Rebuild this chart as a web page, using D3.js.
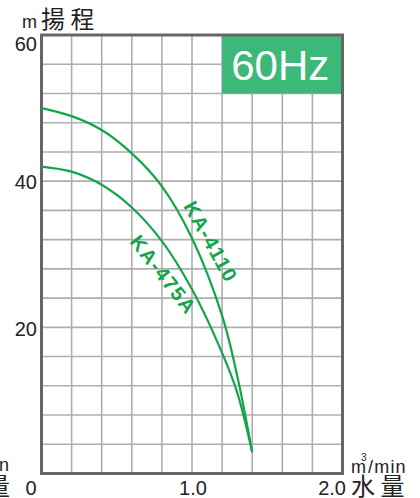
<!DOCTYPE html>
<html><head><meta charset="utf-8">
<script src="https://cdn.jsdelivr.net/npm/d3@7"></script>
<style>html,body{margin:0;padding:0;background:#fff;}svg{display:block;}</style>
</head><body>
<script>
const flow = [0, 0.2, 0.4, 0.6, 0.8, 1.0, 1.2, 1.3, 1.4];
const headKA4110 = [50, 48.9, 47.0, 43.8, 39.3, 32.2, 21.6, 13.4, 2.9];
const headKA475A = [42, 41.3, 39.5, 36.4, 31.8, 25.2, 16.5, 11.1, 2.9];
const xTickLabels = ["0", "1.0", "2.0"];
const yTickLabels = ["20", "40", "60"];
const seriesNames = ["KA-4110", "KA-475A"];

const W = 420, H = 498;
const L = 41.5, R = 342.5, T = 35, B = 473.5;
const svg = d3.select("body").append("svg").attr("width", W).attr("height", H);
const x = d3.scaleLinear().domain([0, 2]).range([L, R]);
const y = d3.scaleLinear().domain([0, 60]).range([B, T]);
const green = "#12a64a";
const font = "Liberation Sans, Arial, sans-serif";
const cjk = "Noto Sans CJK TC, Noto Sans CJK JP, sans-serif";
const ink = "#222";

// grid
const g = svg.append("g");
g.selectAll("line.v").data(d3.range(1, 10).map(i => i * 0.2)).join("line")
  .attr("x1", d => x(d)).attr("x2", d => x(d)).attr("y1", T).attr("y2", B)
  .attr("stroke", "#aeaeae").attr("stroke-width", 1.6);
g.selectAll("line.h").data(d3.range(1, 15).map(i => i * 4)).join("line")
  .attr("y1", d => y(d)).attr("y2", d => y(d)).attr("x1", L).attr("x2", R)
  .attr("stroke", "#aeaeae").attr("stroke-width", 1.6);

// 60Hz box
svg.append("rect").attr("x", x(1.2)).attr("y", y(60)).attr("width", x(2) - x(1.2)).attr("height", y(52) - y(60))
  .attr("fill", "#3cb878");
svg.append("text").attr("x", (x(1.2) + x(2)) / 2 - 2).attr("y", 80)
  .attr("text-anchor", "middle").attr("fill", "#fff").attr("font-family", font)
  .attr("font-size", 42).text("60Hz");

// border
svg.append("rect").attr("x", L).attr("y", T).attr("width", R - L).attr("height", B - T)
  .attr("fill", "none").attr("stroke", "#666").attr("stroke-width", 3);

// curves
const line = d3.line().x(d => x(d[0])).y(d => y(d[1])).curve(d3.curveCatmullRom.alpha(0.5));
[headKA4110, headKA475A].forEach(arr => {
  svg.append("path").attr("d", line(flow.map((f, i) => [f, arr[i]])))
    .attr("fill", "none").attr("stroke", green).attr("stroke-width", 2.2);
});

// curve labels
svg.append("text").attr("transform", "translate(183,206) rotate(61)")
  .attr("fill", green).attr("font-family", font).attr("font-weight", "bold").attr("font-size", 20)
  .attr("letter-spacing", 1.5).text(seriesNames[0]);
svg.append("text").attr("transform", "translate(129,242) rotate(52)")
  .attr("fill", green).attr("font-family", font).attr("font-weight", "bold").attr("font-size", 20)
  .attr("letter-spacing", 1.5).text(seriesNames[1]);

// y tick labels
const yOff = {20: 8.5, 40: 8, 60: 16};
[20, 40, 60].forEach((v, i) => {
  svg.append("text").attr("x", 37).attr("y", y(v) + yOff[v]).attr("text-anchor", "end")
    .attr("font-family", font).attr("font-size", 20).attr("fill", ink).text(yTickLabels[i]);
});
// x tick labels
svg.append("text").attr("x", 31).attr("y", 495).attr("text-anchor", "middle")
  .attr("font-family", font).attr("font-size", 20).attr("fill", ink).text(xTickLabels[0]);
svg.append("text").attr("x", x(1) + 1).attr("y", 495).attr("text-anchor", "middle")
  .attr("font-family", font).attr("font-size", 20).attr("fill", ink).text(xTickLabels[1]);
svg.append("text").attr("x", 346).attr("y", 495).attr("text-anchor", "end")
  .attr("font-family", font).attr("font-size", 20).attr("fill", ink).text(xTickLabels[2]);

// axis titles
svg.append("text").attr("x", 37).attr("y", 28).attr("text-anchor", "end")
  .attr("font-family", font).attr("font-size", 18).attr("fill", ink).text("m");
svg.append("text").attr("x", 41).attr("y", 28)
  .attr("font-family", cjk).attr("font-size", 24).attr("fill", ink).text("揚 程");
svg.append("text").attr("x", 351).attr("y", 473)
  .attr("font-family", font).attr("font-size", 18).attr("fill", ink).text("m");
svg.append("text").attr("x", 361).attr("y", 461)
  .attr("font-family", font).attr("font-size", 10).attr("fill", ink).text("3");
svg.append("text").attr("x", 368).attr("y", 473)
  .attr("font-family", font).attr("font-size", 18).attr("letter-spacing", 1.2).attr("fill", ink).text("/min");
svg.append("text").attr("x", 351).attr("y", 495)
  .attr("font-family", cjk).attr("font-size", 24).attr("fill", ink).text("水 量");
// cut-off labels from a neighbouring chart at the far left
svg.append("text").attr("x", 9).attr("y", 471).attr("text-anchor", "end")
  .attr("font-family", font).attr("font-size", 18).attr("fill", ink).text("/min");
svg.append("text").attr("x", 10).attr("y", 495).attr("text-anchor", "end")
  .attr("font-family", cjk).attr("font-size", 24).attr("fill", ink).text("量");
</script>
</body></html>
